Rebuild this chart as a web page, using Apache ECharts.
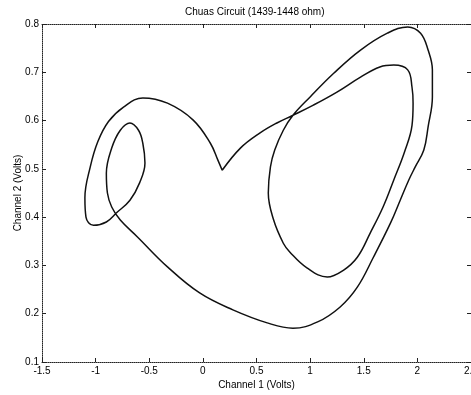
<!DOCTYPE html>
<html>
<head>
<meta charset="utf-8">
<script src="https://cdn.jsdelivr.net/npm/echarts@6/dist/echarts.min.js"></script>
<style>
html,body{margin:0;padding:0;background:#fff;}
#chart{width:471px;height:395px;}
</style>
</head>
<body>
<div id="chart"></div>
<script>
// Channel 1 (x, Volts) and Channel 2 (y, Volts) samples along the trajectory, in drawing order
var channel1 = [0.18, 0.14, 0.07, -0.09, -0.33, -0.56, -0.74, -0.88, -0.98, -1.05, -1.10, -1.09, -1.02, -0.90, -0.80, -0.68, -0.59, -0.54, -0.56, -0.60, -0.68, -0.77, -0.85, -0.90, -0.89, -0.85, -0.77, -0.61, -0.33, -0.03, 0.28, 0.60, 0.84, 1.07, 1.28, 1.44, 1.59, 1.75, 1.84, 1.92, 1.98, 2.06, 2.10, 2.14, 2.14, 2.10, 2.03, 1.91, 1.72, 1.47, 1.22, 1.00, 0.84, 0.75, 0.67, 0.63, 0.61, 0.66, 0.75, 0.81, 0.97, 1.16, 1.31, 1.44, 1.56, 1.68, 1.78, 1.88, 1.95, 1.96, 1.95, 1.91, 1.78, 1.65, 1.47, 1.25, 1.03, 0.84, 0.69, 0.53, 0.35, 0.18];
var channel2 = [0.497, 0.518, 0.553, 0.601, 0.636, 0.647, 0.628, 0.598, 0.556, 0.504, 0.440, 0.400, 0.383, 0.390, 0.410, 0.435, 0.471, 0.512, 0.553, 0.580, 0.595, 0.580, 0.543, 0.491, 0.450, 0.421, 0.394, 0.359, 0.297, 0.243, 0.208, 0.181, 0.170, 0.183, 0.214, 0.255, 0.317, 0.388, 0.435, 0.477, 0.504, 0.539, 0.587, 0.649, 0.705, 0.746, 0.781, 0.794, 0.781, 0.746, 0.698, 0.649, 0.611, 0.580, 0.539, 0.504, 0.450, 0.394, 0.346, 0.328, 0.295, 0.276, 0.290, 0.317, 0.367, 0.421, 0.477, 0.535, 0.590, 0.636, 0.669, 0.705, 0.715, 0.711, 0.690, 0.659, 0.632, 0.611, 0.595, 0.574, 0.543, 0.497];
var xRange = [-1.5, 2.5];
var yRange = [0.1, 0.8];
var xStep = 0.5;
var yStep = 0.1;
var titleText = 'Chuas Circuit (1439-1448 ohm)';
var xName = 'Channel 1 (Volts)';
var yName = 'Channel 2 (Volts)';

var points = channel1.map(function (x, i) { return [x, channel2[i]]; });
var FONT = 'Liberation Sans, Arial, sans-serif';
var frameLine = { show: true, onZero: false, lineStyle: { color: '#222', type: 'dotted', width: 1 } };
var tickStyle = { show: true, inside: true, length: 4, lineStyle: { color: '#222', width: 1 } };

var chart = echarts.init(document.getElementById('chart'), null, { renderer: 'canvas' });
chart.setOption({
  animation: false,
  backgroundColor: '#fff',
  title: {
    text: titleText, left: 185, top: 7, padding: 0,
    textStyle: { fontFamily: FONT, fontSize: 10, fontWeight: 'normal', color: '#000' }
  },
  grid: { left: 42, right: 0, top: 24, bottom: 33, containLabel: false, outerBoundsMode: 'none' },
  xAxis: [{
    type: 'value', min: xRange[0], max: xRange[1], interval: xStep, position: 'bottom',
    axisLine: frameLine, axisTick: tickStyle, splitLine: { show: false },
    axisLabel: { fontFamily: FONT, fontSize: 10, color: '#000', margin: 4, showMaxLabel: true, hideOverlap: false },
    name: xName, nameLocation: 'middle', nameGap: 18, nameMoveOverlap: false,
    nameTextStyle: { fontFamily: FONT, fontSize: 10, color: '#000' }
  }, {
    type: 'value', min: xRange[0], max: xRange[1], interval: xStep, position: 'top',
    axisLine: frameLine, axisTick: tickStyle, splitLine: { show: false },
    axisLabel: { show: false }
  }],
  yAxis: [{
    type: 'value', min: yRange[0], max: yRange[1], interval: yStep, position: 'left',
    axisLine: frameLine, axisTick: tickStyle, splitLine: { show: false },
    axisLabel: { fontFamily: FONT, fontSize: 10, color: '#000', margin: 3 },
    name: yName, nameLocation: 'middle', nameGap: 19, nameMoveOverlap: false,
    nameTextStyle: { fontFamily: FONT, fontSize: 10, color: '#000' }
  }, {
    type: 'value', min: yRange[0], max: yRange[1], interval: yStep, position: 'right',
    axisLine: frameLine, axisTick: tickStyle, splitLine: { show: false },
    axisLabel: { show: false }
  }],
  series: [{
    type: 'line',
    data: points,
    showSymbol: false,
    smooth: 0.4,
    lineStyle: { color: '#111', width: 1.5 },
    xAxisIndex: 0, yAxisIndex: 0
  }]
});
</script>
</body>
</html>
